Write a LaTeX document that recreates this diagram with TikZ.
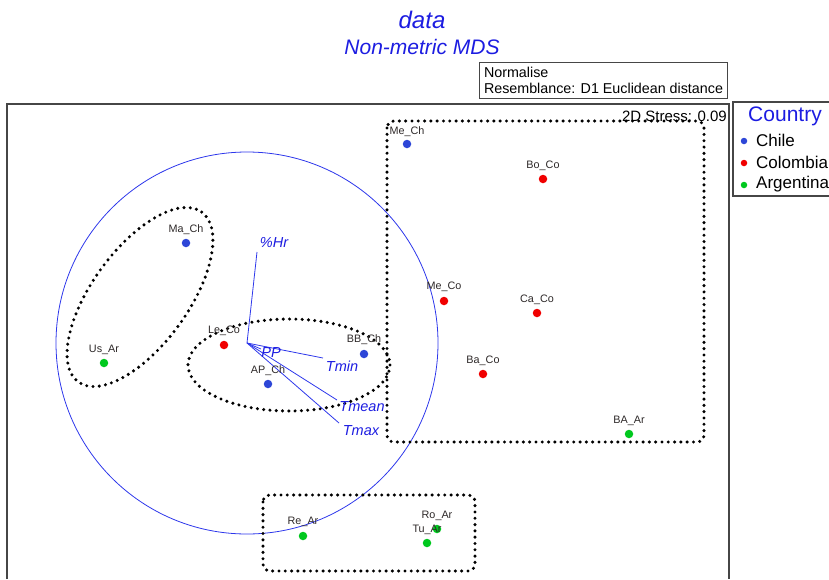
\documentclass[tikz,border=0pt]{standalone}
\usepackage{fontspec}
\setmainfont{Liberation Sans}
\definecolor{mblue}{RGB}{28,28,225}
\definecolor{vblue}{RGB}{45,55,235}
\definecolor{pblue}{RGB}{45,70,215}
\definecolor{pred}{RGB}{240,0,0}
\definecolor{pgreen}{RGB}{0,200,30}
\definecolor{labgray}{RGB}{45,40,40}
\definecolor{framec}{RGB}{70,70,70}
\begin{document}
\begin{tikzpicture}[x=1pt,y=-1pt,
  ptdot/.style={circle, inner sep=0pt, minimum size=8.5pt, fill=#1},
  ptlabel/.style={font=\fontsize{10.8}{12}\selectfont, text=labgray, inner sep=0pt},
  vec/.style={vblue, line width=0.8pt},
  vlabel/.style={font=\fontsize{14.5}{16}\selectfont\itshape, text=mblue, inner sep=0pt},
  grp/.style={black, line width=3.4pt, line cap=round, dash pattern=on 0pt off 6.3pt},
  legtext/.style={font=\fontsize{17}{19}\selectfont, anchor=west, inner sep=0pt},
  legdot/.style={circle, inner sep=0pt, minimum size=6.5pt, fill=#1}
]
\useasboundingbox (0,0) rectangle (829,579);
\begin{scope}
\clip (0,0) rectangle (829,579);
% titles
\node[font=\fontsize{24}{26}\selectfont\itshape, text=mblue, inner sep=0pt] (title) at (422,20) {data};
\node[font=\fontsize{21}{23}\selectfont\itshape, text=mblue, inner sep=0pt] (subtitle) at (422,47) {Non-metric MDS};
% info box
\node[draw=framec, line width=1pt, anchor=north west, align=left, inner xsep=2.5pt, inner ysep=2pt,
  minimum width=248pt, minimum height=36pt, font=\fontsize{14.3}{16}\selectfont, text depth=0pt] (normbox) at (479,62)
  {Normalise\\Resemblance: D1 Euclidean distance};
% frame
\draw[framec, line width=1.2pt] (7,579) -- (7,104) -- (729,104) -- (729,579);
% legend box
\draw[framec, line width=1.2pt] (835,102) -- (733,102) -- (733,196) -- (835,196);
\node[font=\fontsize{21}{23}\selectfont, text=mblue, inner sep=0pt] (legtitle) at (785,116) {Country};
\node[legdot=pblue] (ld1) at (744,141) {};
\node[legdot=pred] (ld2) at (744,163) {};
\node[legdot=pgreen] (ld3) at (744,185) {};
\node[legtext] (lt1) at (756,140) {Chile};
\node[legtext] (lt2) at (756,162) {Colombia};
\node[legtext] (lt3) at (756,184) {Argentina};
% circle and vectors
\coordinate (o) at (247,343);
\draw[vec] (o) circle [radius=191];
% groups
\draw[grp, rounded corners=7pt] (387,121) rectangle (704,442);
\draw[grp, rounded corners=7pt] (263,495) rectangle (475,571);
\draw[grp, rotate around={54:(140,297)}] (140,297) ellipse [x radius=105, y radius=48];
\draw[grp] (289,365) ellipse [x radius=101, y radius=46];
% stress
\node[font=\fontsize{15}{17}\selectfont, anchor=east, inner sep=0pt] (stress) at (727,116) {2D Stress: 0.09};
% vectors
\coordinate (hrE) at (257,252);
\coordinate (ppE) at (261,349);
\coordinate (tminE) at (323,358);
\coordinate (tmeanE) at (337,400);
\coordinate (tmaxE) at (339,423);
\draw[vec] (o) -- (hrE);
\draw[vec] (o) -- (ppE);
\draw[vec] (o) -- (tminE);
\draw[vec] (o) -- (tmeanE);
\draw[vec] (o) -- (tmaxE);
\node[vlabel] (hrL) at (274,243) {\%Hr};
\node[vlabel] (ppL) at (271,353) {PP};
\node[vlabel] (tminL) at (342,366) {Tmin};
\node[vlabel] (tmeanL) at (362,407) {Tmean};
\node[vlabel] (tmaxL) at (361,431) {Tmax};
% points
\node[ptdot=pblue] (MeCh) at (407,144) {};
\node[ptlabel] (MeChL) at (407,132) {Me\_Ch};
\node[ptdot=pred] (BoCo) at (543,179) {};
\node[ptlabel] (BoCoL) at (543,166) {Bo\_Co};
\node[ptdot=pblue] (MaCh) at (186,243) {};
\node[ptlabel] (MaChL) at (186,230) {Ma\_Ch};
\node[ptdot=pgreen] (UsAr) at (104,363) {};
\node[ptlabel] (UsArL) at (104,350) {Us\_Ar};
\node[ptdot=pred] (LeCo) at (224,345) {};
\node[ptlabel] (LeCoL) at (224,331) {Le\_Co};
\node[ptdot=pblue] (APCh) at (268,384) {};
\node[ptlabel] (APChL) at (268,371) {AP\_Ch};
\node[ptdot=pblue] (BBCh) at (364,354) {};
\node[ptlabel] (BBChL) at (364,340) {BB\_Ch};
\node[ptdot=pred] (MeCo) at (444,301) {};
\node[ptlabel] (MeCoL) at (444,287) {Me\_Co};
\node[ptdot=pred] (CaCo) at (537,313) {};
\node[ptlabel] (CaCoL) at (537,300) {Ca\_Co};
\node[ptdot=pred] (BaCo) at (483,374) {};
\node[ptlabel] (BaCoL) at (483,361) {Ba\_Co};
\node[ptdot=pgreen] (BAAr) at (629,434) {};
\node[ptlabel] (BAArL) at (629,421) {BA\_Ar};
\node[ptdot=pgreen] (ReAr) at (303,536) {};
\node[ptlabel] (ReArL) at (303,522) {Re\_Ar};
\node[ptdot=pgreen] (RoAr) at (437,529) {};
\node[ptlabel] (RoArL) at (437,516) {Ro\_Ar};
\node[ptdot=pgreen] (TuAr) at (427,543) {};
\node[ptlabel] (TuArL) at (427,530) {Tu\_Ar};
\end{scope}
\end{tikzpicture}
\end{document}
